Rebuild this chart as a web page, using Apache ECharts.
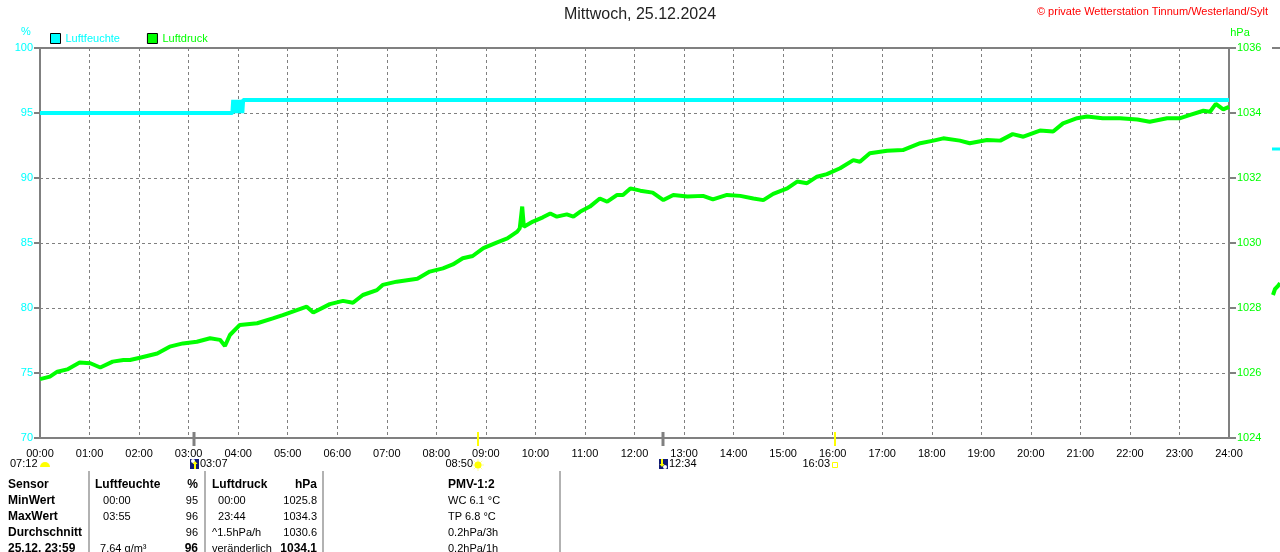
<!DOCTYPE html>
<html><head><meta charset="utf-8">
<script src="https://cdn.jsdelivr.net/npm/echarts@6/dist/echarts.min.js"></script>
<style>html,body{margin:0;padding:0;background:#fff}#c{width:1280px;height:552px}</style>
</head><body><div id="c"></div>
<script>
// ---- data ----
const hourLabels = ['00:00','01:00','02:00','03:00','04:00','05:00','06:00','07:00','08:00','09:00','10:00','11:00','12:00','13:00','14:00','15:00','16:00','17:00','18:00','19:00','20:00','21:00','22:00','23:00','24:00'];
const humidityMinutes = [0,233,234,236,237,239,240,242,243,245,246,248,1440];
const humidityValues  = [95,95,96,95,96,95,96,95,96,95,96,96,96];
const pressureMinutes = [0,12,21,33,48,61,73,88,101,109,121,142,157,173,190,206,218,224,230,242,263,282,294,306,323,331,351,367,379,391,408,415,432,457,472,488,500,512,524,537,553,566,578,581,584,586,597,609,618,626,638,646,654,666,678,687,699,706,715,727,742,755,767,784,803,815,832,848,864,876,888,905,917,929,941,953,969,985,993,1005,1026,1045,1066,1082,1094,1114,1126,1147,1163,1178,1191,1211,1227,1239,1256,1268,1287,1308,1329,1344,1365,1381,1393,1409,1417,1424,1433,1440];
const pressureValues  = [1025.81,1025.89,1026.04,1026.11,1026.32,1026.30,1026.17,1026.35,1026.40,1026.40,1026.47,1026.60,1026.81,1026.91,1026.96,1027.07,1027.02,1026.83,1027.17,1027.48,1027.53,1027.68,1027.78,1027.89,1028.04,1027.86,1028.12,1028.22,1028.16,1028.40,1028.55,1028.71,1028.81,1028.90,1029.12,1029.22,1029.34,1029.53,1029.60,1029.84,1030.01,1030.14,1030.35,1030.45,1031.12,1030.50,1030.66,1030.79,1030.91,1030.81,1030.88,1030.81,1030.96,1031.12,1031.37,1031.27,1031.48,1031.48,1031.68,1031.61,1031.55,1031.32,1031.48,1031.43,1031.45,1031.34,1031.48,1031.45,1031.37,1031.32,1031.51,1031.68,1031.89,1031.84,1032.04,1032.12,1032.30,1032.55,1032.50,1032.76,1032.84,1032.86,1033.07,1033.15,1033.22,1033.15,1033.07,1033.17,1033.15,1033.35,1033.27,1033.46,1033.43,1033.68,1033.84,1033.89,1033.84,1033.84,1033.80,1033.73,1033.84,1033.84,1033.94,1034.07,1034.04,1034.28,1034.11,1034.19];
const eventTimes = ['03:07','08:50','12:34','16:03'];
const eventKinds = ['moonrise','sunrise','moonset','sunset'];
const dawnLabel = '07:12';
const tableRowLabels = ['Sensor','MinWert','MaxWert','Durchschnitt','25.12. 23:59'];
const humCol1 = ['Luftfeuchte','  00:00','  03:55','',' 7.64 g/m³'];
const humCol2 = ['%','95','96','96','96'];
const presCol1 = ['Luftdruck','  00:00','  23:44','^1.5hPa/h','veränderlich'];
const presCol2 = ['hPa','1025.8','1034.3','1030.6','1034.1'];
const pmvCol = ['PMV-1:2','WC 6.1 °C','TP 6.8 °C','0.2hPa/3h','0.2hPa/1h'];
const titleText = 'Mittwoch, 25.12.2024';
const copyrightText = '© private Wetterstation Tinnum/Westerland/Sylt';

// ---- chart ----
const FONT = 'Liberation Sans, Arial, sans-serif';
const CYAN = '#00FFFF', GREEN = '#00FF00', GRAY = '#808080';
const chart = echarts.init(document.getElementById('c'), null, {renderer:'canvas'});
const toMin = s => { const p = s.split(':'); return (+p[0])*60 + (+p[1]); };

chart.setOption({
  animation:false,
  backgroundColor:'#fff',
  textStyle:{fontFamily:FONT},
  grid:{left:40,right:51,top:48,bottom:114,show:true,borderColor:GRAY,borderWidth:2,backgroundColor:'transparent'},
  legend:{
    left:50, top:33, padding:0, itemWidth:10, itemHeight:10, itemGap:27, icon:'rect',
    itemStyle:{borderColor:'#000',borderWidth:1},
    textStyle:{fontSize:11,fontFamily:FONT},
    data:[{name:'Luftfeuchte',textStyle:{color:CYAN}},{name:'Luftdruck',textStyle:{color:GREEN}}]
  },
  xAxis:{
    type:'value', min:0, max:1440, interval:60,
    axisLine:{show:true,lineStyle:{color:GRAY,width:2}},
    axisTick:{show:false},
    axisLabel:{color:'#000',fontSize:11,fontFamily:FONT,margin:10,formatter:v=>hourLabels[Math.round(v/60)]},
    splitLine:{show:true,lineStyle:{color:GRAY,type:[3,3],width:1}}
  },
  yAxis:[
    {type:'value',min:70,max:100,interval:5,position:'left',
     axisLine:{show:true,lineStyle:{color:GRAY,width:2}},
     axisTick:{show:true,length:6,lineStyle:{color:GRAY,width:2}},
     axisLabel:{color:CYAN,fontSize:11,fontFamily:FONT,margin:7,formatter:v=>String(v)},
     splitLine:{show:true,lineStyle:{color:GRAY,type:[3,3],width:1}}},
    {type:'value',min:1024,max:1036,interval:2,position:'right',
     axisLine:{show:true,lineStyle:{color:GRAY,width:2}},
     axisTick:{show:true,length:7,lineStyle:{color:GRAY,width:2}},
     axisLabel:{color:GREEN,fontSize:11,fontFamily:FONT,margin:8,formatter:v=>String(v)},
     splitLine:{show:false}}
  ],
  series:[
    {name:'Luftdruck',type:'line',yAxisIndex:1,showSymbol:false,symbol:'none',
     color:GREEN,itemStyle:{color:GREEN},lineStyle:{color:GREEN,width:4},
     data:pressureMinutes.map((m,i)=>[m,pressureValues[i]]),z:3},
    {name:'Luftfeuchte',type:'line',yAxisIndex:0,showSymbol:false,symbol:'none',
     color:CYAN,itemStyle:{color:CYAN},lineStyle:{color:CYAN,width:4},
     data:humidityMinutes.map((m,i)=>[m,humidityValues[i]]),z:4}
  ]
});

// ---- decorations via the chart's own scales ----
const g = [];
const txt = (text,x,y,opt) => {
  opt = opt||{};
  g.push({type:'text',z:100,style:{text:text,x:x,y:y,fill:opt.fill||'#000',
    font:(opt.bold?'bold ':'')+(opt.size||11)+'px '+FONT,
    align:opt.align||'left',textAlign:opt.align||'left',
    verticalAlign:'middle',textVerticalAlign:'middle'}});
};
txt(titleText,640,15,{size:16,align:'center',fill:'#222'});
txt(copyrightText,1268,12,{size:11,align:'right',fill:'#FF0000'});
txt('%',26,32,{fill:CYAN,size:11,align:'center'});
txt('hPa',1240,33,{fill:GREEN,size:11,align:'center'});

const yBot = chart.convertToPixel({yAxisIndex:0},70);
const rowY = yBot + 26;
// dawn label at left
txt(dawnLabel,10,rowY,{});
g.push({type:'sector',z:100,shape:{cx:45,cy:rowY+3,r:5,startAngle:Math.PI,endAngle:2*Math.PI},style:{fill:'#FFFF00'}});

eventTimes.forEach((t,i)=>{
  const x = Math.round(chart.convertToPixel({xAxisIndex:0},toMin(t)));
  const kind = eventKinds[i];
  const isSun = kind.indexOf('sun')===0;
  g.push({type:'line',z:100,shape:{x1:x,y1:yBot-6,x2:x,y2:yBot+8},style:{stroke:isSun?'#FFFF00':GRAY,lineWidth:isSun?2:3}});
  if (isSun) {
    txt(t,x-5,rowY,{align:'right'});
    if (kind==='sunrise') {
      for (let k=0;k<8;k++){const a=k*Math.PI/4;
        g.push({type:'line',z:100,shape:{x1:x+Math.cos(a)*3,y1:rowY+1+Math.sin(a)*3,x2:x+Math.cos(a)*6,y2:rowY+1+Math.sin(a)*6},style:{stroke:'#FFFF99',lineWidth:1}});}
      g.push({type:'circle',z:101,shape:{cx:x,cy:rowY+1,r:3.5},style:{fill:'#FFFF00'}});
    } else {
      g.push({type:'rect',z:100,shape:{x:x-2.5,y:rowY-1.5,width:5,height:5},style:{fill:'none',stroke:'#FFFF00',lineWidth:1}});
    }
  } else {
    txt(t,x+6,rowY,{});
    g.push({type:'rect',z:100,shape:{x:x-4,y:rowY-5,width:9,height:10},style:{fill:'#101a78'}});
    if (kind==='moonrise') {
      g.push({type:'circle',z:101,shape:{cx:x-1,cy:rowY-3,r:2},style:{fill:'#fff'}});
      g.push({type:'polyline',z:101,shape:{points:[[x+1,rowY+5],[x+1,rowY-1]]},style:{stroke:'#FFFF00',lineWidth:2}});
      g.push({type:'polygon',z:101,shape:{points:[[x-1.5,rowY],[x+3.5,rowY],[x+1,rowY-3]]},style:{fill:'#FFFF00'}});
    } else {
      g.push({type:'circle',z:101,shape:{cx:x+2,cy:rowY+3,r:2},style:{fill:'#fff'}});
      g.push({type:'polyline',z:101,shape:{points:[[x-1,rowY-5],[x-1,rowY+1]]},style:{stroke:'#FFFF00',lineWidth:2}});
      g.push({type:'polygon',z:101,shape:{points:[[x-3.5,rowY],[x+1.5,rowY],[x-1,rowY+3]]},style:{fill:'#FFFF00'}});
    }
  }
});

// table
const tableTop = 485, rowH = 16;
[89,205,323,560].forEach(x=>g.push({type:'line',z:100,shape:{x1:x,y1:471,x2:x,y2:552},style:{stroke:'#999',lineWidth:1.5}}));
tableRowLabels.forEach((lab,r)=>{
  const y = tableTop + r*rowH;
  const hdr = r===0, last = r===tableRowLabels.length-1;
  txt(lab,8,y,{bold:true,size:12});
  txt(humCol1[r],hdr?95:97,y,{bold:hdr,size:hdr?12:11});
  txt(humCol2[r],198,y,{bold:hdr||last,size:(hdr||last)?12:11,align:'right'});
  txt(presCol1[r],212,y,{bold:hdr,size:hdr?12:11});
  txt(presCol2[r],317,y,{bold:hdr||last,size:(hdr||last)?12:11,align:'right'});
  txt(pmvCol[r],448,y,{bold:hdr,size:hdr?12:11});
});

// fragments of the neighbouring panel at the right edge
g.push({type:'line',z:100,shape:{x1:1272,y1:48,x2:1280,y2:48},style:{stroke:GRAY,lineWidth:2}});
g.push({type:'line',z:100,shape:{x1:1272,y1:149,x2:1280,y2:149},style:{stroke:CYAN,lineWidth:3}});
g.push({type:'polyline',z:100,shape:{points:[[1273,295],[1275,289],[1278,286],[1280,283]]},style:{stroke:GREEN,lineWidth:4}});

chart.setOption({graphic:{elements:g}});
</script>
</body></html>
